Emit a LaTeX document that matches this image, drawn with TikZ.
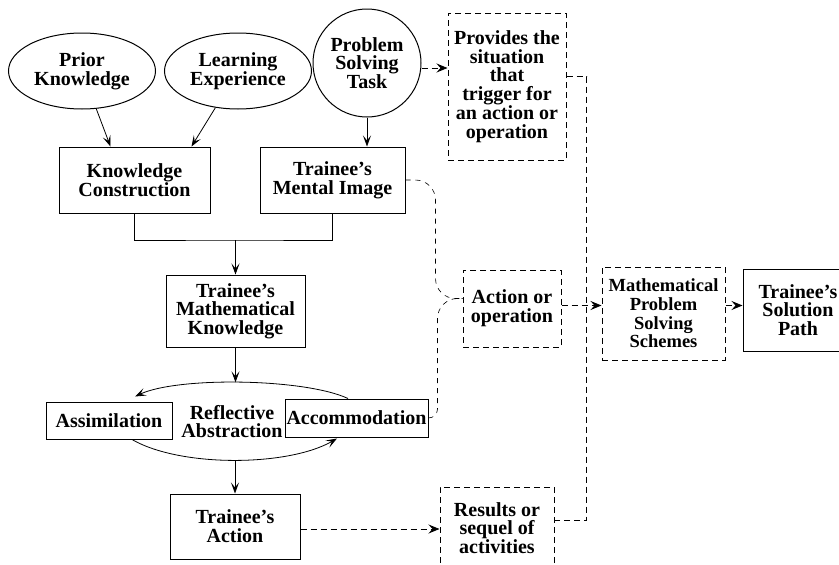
\documentclass[tikz,border=0pt]{standalone}
\usepackage{fontspec}
\setmainfont{Liberation Serif}
\usetikzlibrary{arrows.meta, shapes.geometric}

\begin{document}
\begin{tikzpicture}[x=1pt, y=1pt,
    every node/.style={font=\bfseries\fontsize{20}{18.7}\selectfont},
    box/.style={draw, rectangle, line width=1pt, fill=white,
                align=center, inner sep=1pt},
    dbox/.style={box, dash pattern=on 6pt off 4pt},
    oval/.style={draw, ellipse, line width=1pt, align=center,
                 minimum width=147pt, minimum height=76pt, inner sep=0pt},
    arr/.style={-{Stealth[length=11pt,width=8pt,inset=5pt]}, line width=0.8pt},
    darr/.style={-{Stealth[length=11pt,width=9pt,inset=4pt]},
                 dash pattern=on 6pt off 4pt, line width=0.9pt},
    link/.style={dash pattern=on 6pt off 4pt, line width=0.9pt},
    curv/.style={dash pattern=on 5pt off 5pt, line width=0.6pt}
]
\useasboundingbox (0,0) rectangle (839,-565);
%% Top row: sources
\node[oval] (prior) at (82,-71) {Prior\\Knowledge};
\node[oval] (learn) at (238,-71) {Learning\\Experience};
\node[oval, circle, minimum size=108pt] (task) at (367,-63) {Problem\\Solving\\Task};
%% Construction of knowledge
\node[box, minimum width=151pt, minimum height=66pt] (kc) at (134.5,-180) {Knowledge\\Construction};
\node[box, minimum width=145pt, minimum height=66pt] (tmi) at (332.5,-180) {Trainee’s\\Mental Image};
\node[box, minimum width=139pt, minimum height=72pt] (tmk) at (235.5,-311) {Trainee’s\\Mathematical\\Knowledge};
%% Reflective abstraction cycle
\node[ellipse, minimum width=250pt, minimum height=78pt, align=center] (refl) at (232,-421.5) {Reflective\\Abstraction};
\node[box, minimum width=126pt, minimum height=37pt] (asm) at (109,-420.5) {Assimilation};
\node[box, minimum width=143pt, minimum height=38pt] (acc) at (356.5,-418) {Accommodation};
\node[box, minimum width=130pt, minimum height=65pt] (ta) at (235,-526.5) {Trainee’s\\Action};
%% Right column: dashed stages
\node[dbox, minimum width=118pt, minimum height=147pt] (prov) at (507,-86.5)
    {Provides the\\situation\\that\\trigger for\\an action or\\operation};
\node[dbox, minimum width=98pt, minimum height=77pt] (act) at (512,-308.5) {Action or\\operation};
\node[dbox, minimum width=123pt, minimum height=93pt, font=\bfseries\fontsize{18.5}{18.7}\selectfont] (mpss) at (663.5,-313.5)
    {Mathematical\\Problem\\Solving\\Schemes};
\node[box, minimum width=110pt, minimum height=82pt] (sol) at (798,-310) {Trainee’s\\Solution\\Path};
\node[dbox, minimum width=114pt, minimum height=82pt] (res) at (497,-528) {Results or\\sequel of\\activities};
%% Solid arrows
\draw[arr] (prior) -- ([xshift=-24pt]kc.north);
\draw[arr] (learn) -- ([xshift=57pt]kc.north);
\draw[arr] (task.south) -- (tmi.north -| task.south);
\coordinate (merge) at (235.5,-240);
\draw[line width=0.8pt] (kc.south) |- (merge) -| (tmi.south);
\draw[arr] (merge) -- (tmk.north);
\draw[arr] (tmk.south) -- (tmk.south |- refl.north);
\draw[arr] ([xshift=-8.5pt]acc.north) to[out=155, in=25, looseness=0.57] ([xshift=26pt, yshift=5pt]asm.north);
\draw[arr] ([xshift=23pt]asm.south) to[out=-30, in=-150, looseness=0.7] ([xshift=-19.5pt, yshift=-1pt]acc.south);
\draw[arr] (refl.south -| ta.north) -- (ta.north);
%% Dashed arrows and links
\draw[darr] ([yshift=-5pt]task.east) -- ([yshift=-5pt]task.east -| prov.west);
\draw[darr] ([yshift=-2.5pt]ta.east) -- ([yshift=-2.5pt]ta.east -| res.west);
\draw[darr] ([yshift=3pt]act.east) -- ([yshift=3pt]act.east -| mpss.west);
\draw[darr] ([yshift=8pt]mpss.east) -- ([yshift=8pt]mpss.east -| sol.west);
\draw[link] ([yshift=10pt]prov.east) -- ++(20,0) |- ([yshift=8pt]res.east);
\draw[curv, rounded corners=20pt] (tmi.east) -| ([xshift=-27pt, yshift=10pt]act.west) -- ([yshift=10pt]act.west);
\draw[curv] (acc.east) [rounded corners=9pt] -| ([xshift=-25pt, yshift=-60pt]act.west)
    [rounded corners=20pt] |- ([yshift=10pt]act.west);
\end{tikzpicture}
\end{document}
